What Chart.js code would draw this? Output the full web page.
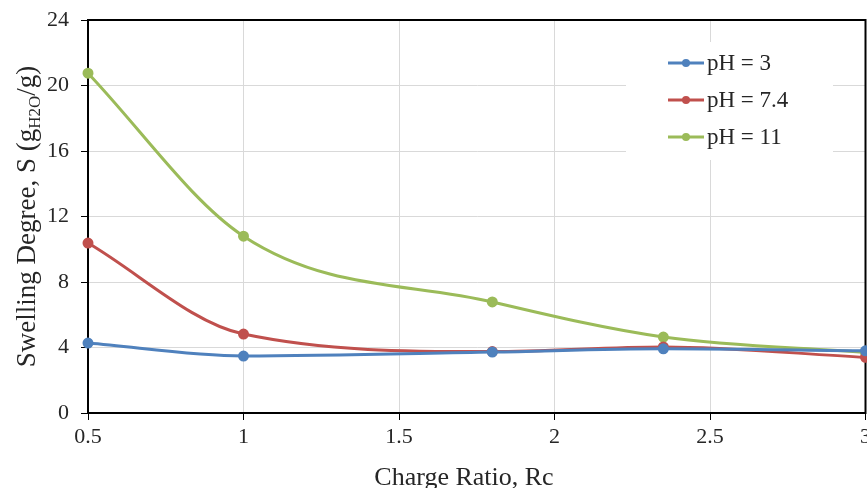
<!DOCTYPE html>
<html>
<head>
<meta charset="utf-8">
<script src="https://cdn.jsdelivr.net/npm/chart.js@4.4.1/dist/chart.umd.min.js"></script>
<style>
  html, body { margin: 0; padding: 0; background: #fff; overflow: hidden; }
</style>
</head>
<body>
<canvas id="swelling" width="875" height="488"></canvas>
<script>
// --- Data ---
const chargeRatio = [0.5, 1, 1.8, 2.35, 3];
const seriesNames = ["pH = 3", "pH = 7.4", "pH = 11"];
const swellingPH3   = [4.27, 3.48, 3.72, 3.92, 3.8];
const swellingPH74  = [10.38, 4.82, 3.75, 4.03, 3.4];
const swellingPH11  = [20.75, 10.8, 6.78, 4.64, 3.7];
const seriesColors  = ["#4f81bd", "#c0504d", "#9bbb59"];
const xTicks = [0.5, 1, 1.5, 2, 2.5, 3];
const yTicks = [0, 4, 8, 12, 16, 20, 24];

const FONT = "'Liberation Serif', 'DejaVu Serif', serif";

function toPoints(values) {
  return chargeRatio.map((x, i) => ({ x, y: values[i] }));
}

function makeDataset(label, values, color) {
  return {
    label,
    data: toPoints(values),
    borderColor: color,
    backgroundColor: color,
    borderWidth: 3,
    pointRadius: 4,
    pointHoverRadius: 4,
    cubicInterpolationMode: "monotone",
    clip: 8,
  };
}

// --- Frame, titles and legend ---
const decorations = {
  id: "decorations",
  beforeDatasetsDraw(chart) {
    const { ctx, chartArea: a } = chart;
    ctx.save();
    ctx.strokeStyle = "#000";
    ctx.lineWidth = 2;
    ctx.strokeRect(a.left, a.top, a.right - a.left, a.bottom - a.top);
    ctx.restore();
  },
  afterDraw(chart) {
    const { ctx, chartArea: a } = chart;
    ctx.save();
    ctx.fillStyle = "#262626";

    // x title
    ctx.font = "26px " + FONT;
    ctx.textAlign = "center";
    ctx.textBaseline = "alphabetic";
    ctx.fillText("Charge Ratio, Rc", 464, 485);

    // y title with subscript
    ctx.translate(35, (a.top + a.bottom) / 2);
    ctx.rotate(-Math.PI / 2);
    const main = "Swelling Degree, S (g";
    const sub = "H2O";
    const tail = "/g)";
    ctx.font = "27px " + FONT;
    const w1 = ctx.measureText(main).width;
    const w3 = ctx.measureText(tail).width;
    ctx.font = "17px " + FONT;
    const w2 = ctx.measureText(sub).width;
    let x = -(w1 + w2 + w3) / 2;
    ctx.textAlign = "left";
    ctx.font = "27px " + FONT;
    ctx.fillText(main, x, 0);
    x += w1;
    ctx.font = "17px " + FONT;
    ctx.fillText(sub, x, 5);
    x += w2;
    ctx.font = "27px " + FONT;
    ctx.fillText(tail, x, 0);
    ctx.restore();

    // legend inside plot area
    ctx.save();
    ctx.fillStyle = "#fff";
    ctx.fillRect(626, 42, 207, 118);
    ctx.font = "23px " + FONT;
    ctx.textBaseline = "middle";
    ctx.textAlign = "left";
    chart.data.datasets.forEach((ds, i) => {
      const y = 63 + i * 37;
      ctx.strokeStyle = ds.borderColor;
      ctx.lineWidth = 3;
      ctx.beginPath();
      ctx.moveTo(668, y);
      ctx.lineTo(704, y);
      ctx.stroke();
      ctx.fillStyle = ds.borderColor;
      ctx.beginPath();
      ctx.arc(686, y, 4, 0, Math.PI * 2);
      ctx.fill();
      ctx.fillStyle = "#262626";
      ctx.fillText(ds.label, 707, y + 1);
    });
    ctx.restore();
  }
};

new Chart(document.getElementById("swelling"), {
  type: "line",
  data: {
    datasets: [
      makeDataset(seriesNames[0], swellingPH3, seriesColors[0]),
      makeDataset(seriesNames[1], swellingPH74, seriesColors[1]),
      makeDataset(seriesNames[2], swellingPH11, seriesColors[2]),
    ]
  },
  options: {
    responsive: false,
    animation: false,
    layout: { padding: { top: 20, right: 0, left: 0, bottom: 0 } },
    plugins: {
      legend: { display: false },
      tooltip: { enabled: false }
    },
    scales: {
      x: {
        type: "linear",
        min: 0.5,
        max: 3,
        afterBuildTicks: scale => { scale.ticks = xTicks.map(v => ({ value: v })); },
        afterFit: scale => { scale.height = 75; },
        grid: { color: "#d9d9d9", tickColor: "#000", tickLength: 7, lineWidth: 1 },
        border: { color: "#000", width: 2 },
        ticks: { color: "#262626", font: { family: FONT, size: 22 }, padding: 4, callback: v => String(v) }
      },
      y: {
        min: 0,
        max: 24,
        afterBuildTicks: scale => { scale.ticks = yTicks.map(v => ({ value: v })); },
        afterFit: scale => {
          scale.width = 88;
          scale.paddingTop = 0;
          scale.paddingBottom = 0;
        },
        grid: { color: "#d9d9d9", tickColor: "#000", tickLength: 7, lineWidth: 1 },
        border: { color: "#000", width: 2 },
        ticks: { color: "#262626", font: { family: FONT, size: 22 }, padding: 12, callback: v => String(v) }
      }
    }
  },
  plugins: [decorations]
});
</script>
</body>
</html>
